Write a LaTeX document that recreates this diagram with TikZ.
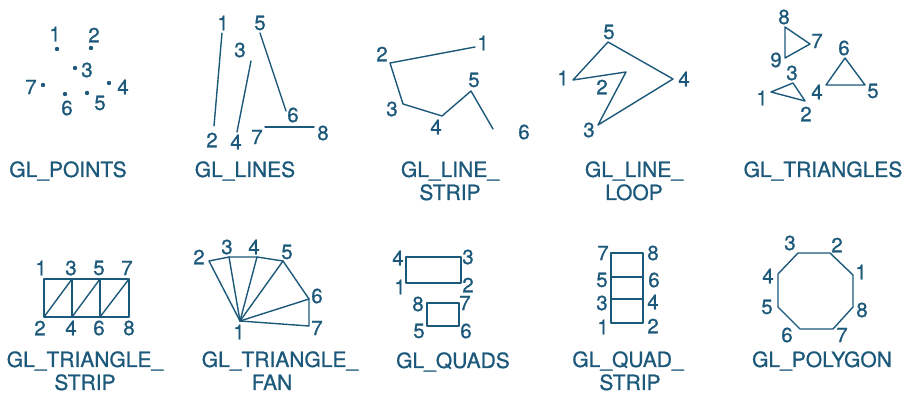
\documentclass[tikz,border=0pt]{standalone}
\usepackage{fontspec}
\setmainfont{TeX Gyre Heros}[BoldFont={TeX Gyre Heros},BoldFeatures={FakeBold=0.8}]
\definecolor{ink}{RGB}{28,88,122}
\begin{document}
\begin{tikzpicture}[x=1pt,y=-1pt,
  lbl/.style={text=ink,font=\fontsize{20.5}{20.5}\selectfont\bfseries,inner sep=0pt},
  ttl/.style={text=ink,font=\fontsize{21}{21}\selectfont\bfseries,inner sep=0pt,anchor=base},
  edge/.style={draw=ink,line width=1.4pt,line join=round,line cap=round},
  dotpt/.style={fill=ink,circle,inner sep=0pt,minimum size=4.4pt}]
\useasboundingbox (0,0) rectangle (906,395);

% ---------- GL_POINTS ----------
\node[dotpt] (pa1) at (57,49) {};
\node[dotpt] (pa2) at (91,48) {};
\node[dotpt] (pa3) at (75,68) {};
\node[dotpt] (pa4) at (109,83) {};
\node[dotpt] (pa5) at (87,93) {};
\node[dotpt] (pa6) at (65,94) {};
\node[dotpt] (pa7) at (43,85) {};
\node[lbl] (la1) at (55,34) {1};
\node[lbl] (la2) at (94,35) {2};
\node[lbl] (la3) at (87,70) {3};
\node[lbl] (la4) at (123,87) {4};
\node[lbl] (la5) at (100,103) {5};
\node[lbl] (la6) at (67,108) {6};
\node[lbl] (la7) at (31,87) {7};
\node[ttl] (ta) at (68,177) {GL\_POINTS};

% ---------- GL_LINES ----------
\coordinate (pb1) at (222,33);
\coordinate (pb2) at (214,126);
\coordinate (pb3) at (251,61);
\coordinate (pb4) at (237,132);
\coordinate (pb5) at (260,33);
\coordinate (pb6) at (286,111);
\coordinate (pb7) at (265,127);
\coordinate (pb8) at (314,127);
\draw[edge] (pb1) -- (pb2);
\draw[edge] (pb3) -- (pb4);
\draw[edge] (pb5) -- (pb6);
\draw[edge] (pb7) -- (pb8);
\node[lbl] (lb1) at (223,23) {1};
\node[lbl] (lb2) at (212,140) {2};
\node[lbl] (lb3) at (240,50) {3};
\node[lbl] (lb4) at (236,142) {4};
\node[lbl] (lb5) at (260,23) {5};
\node[lbl] (lb6) at (293,115) {6};
\node[lbl] (lb7) at (257,137) {7};
\node[lbl] (lb8) at (323,133) {8};
\node[ttl] (tb) at (245,177) {GL\_LINES};

% ---------- GL_LINE_STRIP ----------
\coordinate (pc1) at (475,47);
\coordinate (pc2) at (390,63);
\coordinate (pc3) at (403,104);
\coordinate (pc4) at (442,116);
\coordinate (pc5) at (471,91);
\coordinate (pc6) at (493,129);
\draw[edge] (pc1) -- (pc2) -- (pc3) -- (pc4) -- (pc5) -- (pc6);
\node[lbl] (lc1) at (483,43) {1};
\node[lbl] (lc2) at (382,54) {2};
\node[lbl] (lc3) at (392,109) {3};
\node[lbl] (lc4) at (436,127) {4};
\node[lbl] (lc5) at (474,80) {5};
\node[lbl] (lc6) at (524,132) {6};
\node[ttl] (tc1) at (450,177) {GL\_LINE\_};
\node[ttl] (tc2) at (450,200) {STRIP};

% ---------- GL_LINE_LOOP ----------
\coordinate (pd1) at (573,80);
\coordinate (pd2) at (626,72);
\coordinate (pd3) at (598,125);
\coordinate (pd4) at (673,79);
\coordinate (pd5) at (608,42);
\draw[edge] (pd1) -- (pd2) -- (pd3) -- (pd4) -- (pd5) -- cycle;
\node[lbl] (ld1) at (563,78) {1};
\node[lbl] (ld2) at (602,87) {2};
\node[lbl] (ld3) at (589,130) {3};
\node[lbl] (ld4) at (684,79) {4};
\node[lbl] (ld5) at (609,32) {5};
\node[ttl] (td1) at (634,177) {GL\_LINE\_};
\node[ttl] (td2) at (634,200) {LOOP};

% ---------- GL_TRIANGLES ----------
\coordinate (pe1) at (771,92);
\coordinate (pe2) at (805,101);
\coordinate (pe3) at (793,83);
\coordinate (pe4) at (826,85);
\coordinate (pe5) at (865,85);
\coordinate (pe6) at (845,58);
\coordinate (pe7) at (810,44);
\coordinate (pe8) at (785,27);
\coordinate (pe9) at (785,58);
\draw[edge] (pe1) -- (pe2) -- (pe3) -- cycle;
\draw[edge] (pe4) -- (pe5) -- (pe6) -- cycle;
\draw[edge] (pe7) -- (pe8) -- (pe9) -- cycle;
\node[lbl] (le1) at (762,98) {1};
\node[lbl] (le2) at (806,114) {2};
\node[lbl] (le3) at (792,73) {3};
\node[lbl] (le4) at (817,92) {4};
\node[lbl] (le5) at (873,91) {5};
\node[lbl] (le6) at (844,48) {6};
\node[lbl] (le7) at (817,41) {7};
\node[lbl] (le8) at (784,17) {8};
\node[lbl] (le9) at (776,60) {9};
\node[ttl] (te) at (823,177) {GL\_TRIANGLES};

% ---------- GL_TRIANGLE_STRIP ----------
\coordinate (pf1) at (44,279);
\coordinate (pf2) at (44,317);
\coordinate (pf3) at (72,279);
\coordinate (pf4) at (72,317);
\coordinate (pf5) at (100,279);
\coordinate (pf6) at (100,317);
\coordinate (pf7) at (129,279);
\coordinate (pf8) at (129,317);
\draw[edge] (pf1) -- (pf7) -- (pf8) -- (pf2) -- cycle;
\draw[edge] (pf3) -- (pf4);
\draw[edge] (pf5) -- (pf6);
\draw[edge] (pf2) -- (pf3);
\draw[edge] (pf4) -- (pf5);
\draw[edge] (pf6) -- (pf7);
\node[lbl] (lf1) at (41,268) {1};
\node[lbl] (lf3) at (71,268) {3};
\node[lbl] (lf5) at (99,268) {5};
\node[lbl] (lf7) at (127,268) {7};
\node[lbl] (lf2) at (40,328) {2};
\node[lbl] (lf4) at (71,328) {4};
\node[lbl] (lf6) at (99,328) {6};
\node[lbl] (lf8) at (129,328) {8};
\node[ttl] (tf1) at (85,367) {GL\_TRIANGLE\_};
\node[ttl] (tf2) at (85,390) {STRIP};

% ---------- GL_TRIANGLE_FAN ----------
\coordinate (pg1) at (240,321);
\coordinate (pg2) at (209,261);
\coordinate (pg3) at (229,257);
\coordinate (pg4) at (257,257);
\coordinate (pg5) at (283,261);
\coordinate (pg6) at (309,299);
\coordinate (pg7) at (309,326);
\draw[edge] (pg1) -- (pg2) -- (pg3) -- (pg4) -- (pg5) -- (pg6) -- (pg7) -- cycle;
\draw[edge] (pg1) -- (pg3);
\draw[edge] (pg1) -- (pg4);
\draw[edge] (pg1) -- (pg5);
\draw[edge] (pg1) -- (pg6);
\node[lbl] (lg1) at (239,332) {1};
\node[lbl] (lg2) at (199,257) {2};
\node[lbl] (lg3) at (227,247) {3};
\node[lbl] (lg4) at (254,247) {4};
\node[lbl] (lg5) at (287,252) {5};
\node[lbl] (lg6) at (317,296) {6};
\node[lbl] (lg7) at (317,328) {7};
\node[ttl] (tg1) at (280,367) {GL\_TRIANGLE\_};
\node[ttl] (tg2) at (272,390) {FAN};

% ---------- GL_QUADS ----------
\coordinate (ph1) at (406,283);
\coordinate (ph2) at (461,283);
\coordinate (ph3) at (461,257);
\coordinate (ph4) at (406,257);
\coordinate (ph5) at (427,326);
\coordinate (ph6) at (459,326);
\coordinate (ph7) at (459,303);
\coordinate (ph8) at (427,303);
\draw[edge] (ph1) -- (ph2) -- (ph3) -- (ph4) -- cycle;
\draw[edge] (ph5) -- (ph6) -- (ph7) -- (ph8) -- cycle;
\node[lbl] (lh1) at (400,287) {1};
\node[lbl] (lh2) at (468,285) {2};
\node[lbl] (lh3) at (468,257) {3};
\node[lbl] (lh4) at (398,258) {4};
\node[lbl] (lh5) at (419,331) {5};
\node[lbl] (lh6) at (466,331) {6};
\node[lbl] (lh7) at (465,303) {7};
\node[lbl] (lh8) at (418,304) {8};
\node[ttl] (th) at (453,368) {GL\_QUADS};

% ---------- GL_QUAD_STRIP ----------
\coordinate (pi1) at (611,323);
\coordinate (pi2) at (643,323);
\coordinate (pi3) at (611,299);
\coordinate (pi4) at (643,299);
\coordinate (pi5) at (611,277);
\coordinate (pi6) at (643,277);
\coordinate (pi7) at (611,253);
\coordinate (pi8) at (643,253);
\draw[edge] (pi1) -- (pi2) -- (pi8) -- (pi7) -- cycle;
\draw[edge] (pi3) -- (pi4);
\draw[edge] (pi5) -- (pi6);
\node[lbl] (li1) at (603,327) {1};
\node[lbl] (li2) at (653,326) {2};
\node[lbl] (li3) at (602,303) {3};
\node[lbl] (li4) at (653,302) {4};
\node[lbl] (li5) at (602,280) {5};
\node[lbl] (li6) at (654,280) {6};
\node[lbl] (li7) at (603,253) {7};
\node[lbl] (li8) at (653,253) {8};
\node[ttl] (ti1) at (628,367) {GL\_QUAD\_};
\node[ttl] (ti2) at (630,390) {STRIP};

% ---------- GL_POLYGON ----------
\coordinate (pj1) at (853,275);
\coordinate (pj2) at (830,253);
\coordinate (pj3) at (798,253);
\coordinate (pj4) at (778,274);
\coordinate (pj5) at (778,307);
\coordinate (pj6) at (800,329);
\coordinate (pj7) at (833,329);
\coordinate (pj8) at (853,307);
\draw[edge] (pj1) -- (pj2) -- (pj3) -- (pj4) -- (pj5) -- (pj6) -- (pj7) -- (pj8) -- cycle;
\node[lbl] (lj1) at (861,272) {1};
\node[lbl] (lj2) at (837,245) {2};
\node[lbl] (lj3) at (790,243) {3};
\node[lbl] (lj4) at (768,276) {4};
\node[lbl] (lj5) at (767,307) {5};
\node[lbl] (lj6) at (787,335) {6};
\node[lbl] (lj7) at (842,335) {7};
\node[lbl] (lj8) at (862,310) {8};
\node[ttl] (tj) at (822,367) {GL\_POLYGON};
\end{tikzpicture}
\end{document}
